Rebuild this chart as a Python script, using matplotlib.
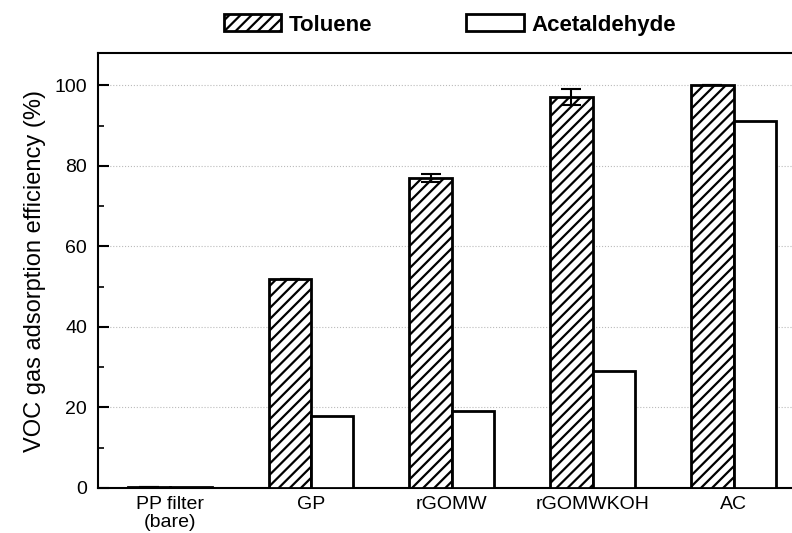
import matplotlib
matplotlib.use("Agg")
import matplotlib.pyplot as plt
import numpy as np

categories = ["PP filter\n(bare)", "GP", "rGOMW", "rGOMWKOH", "AC"]
toluene = [0.3, 52, 77, 97, 100]
toluene_err = [0, 0, 1, 2, 0]
acetaldehyde = [0.3, 18, 19, 29, 91]
yticks = [0, 20, 40, 60, 80, 100]

plt.rcParams['font.family'] = ['Liberation Sans', 'DejaVu Sans']
plt.rcParams['hatch.linewidth'] = 1.6

fig = plt.figure(figsize=(7.92, 5.33), dpi=100)
ax = fig.add_axes([98/792, 45/533, (804-98)/792, (488-53)/533])

x = np.arange(len(categories))
w = 0.3
ax.bar(x - w/2, toluene, w, facecolor='white', edgecolor='black', hatch='///',
       linewidth=2, label='Toluene', zorder=3)
ax.errorbar(x - w/2, toluene, yerr=toluene_err, fmt='none', ecolor='black',
            elinewidth=1.5, capsize=7, capthick=1.5, zorder=4)
ax.bar(x + w/2, acetaldehyde, w, facecolor='white', edgecolor='black',
       linewidth=2, label='Acetaldehyde', zorder=3)

ax.set_xlim(-0.51, 4.5)
ax.set_ylim(0, 108)
ax.set_yticks(yticks)
ax.set_yticks(np.arange(10, 101, 20), minor=True)
ax.set_xticks(x)
ax.set_xticklabels(categories, fontsize=14, linespacing=1.05)
ax.tick_params(axis='y', direction='in', length=8, width=1.5, labelsize=14, pad=8)
ax.tick_params(axis='y', which='minor', direction='in', length=4, width=1.2)
ax.tick_params(axis='x', length=0, pad=6)
ax.set_ylabel("VOC gas adsorption efficiency (%)", fontsize=17, labelpad=6)
ax.yaxis.grid(True, which='major', linestyle=':', color='#bbbbbb', linewidth=0.8, zorder=0)
ax.set_axisbelow(True)
for s in ['left', 'top', 'bottom']:
    ax.spines[s].set_linewidth(1.5)
ax.spines['right'].set_visible(False)

handles, labels = ax.get_legend_handles_labels()
fig.legend(handles, labels, loc='center', bbox_to_anchor=(0.568, 0.953), ncol=2,
           frameon=False, prop=dict(size=16, weight='bold'),
           handlelength=2.6, handleheight=0.8, handletextpad=0.35, columnspacing=4.2)

fig.savefig("out.png", dpi=100)
